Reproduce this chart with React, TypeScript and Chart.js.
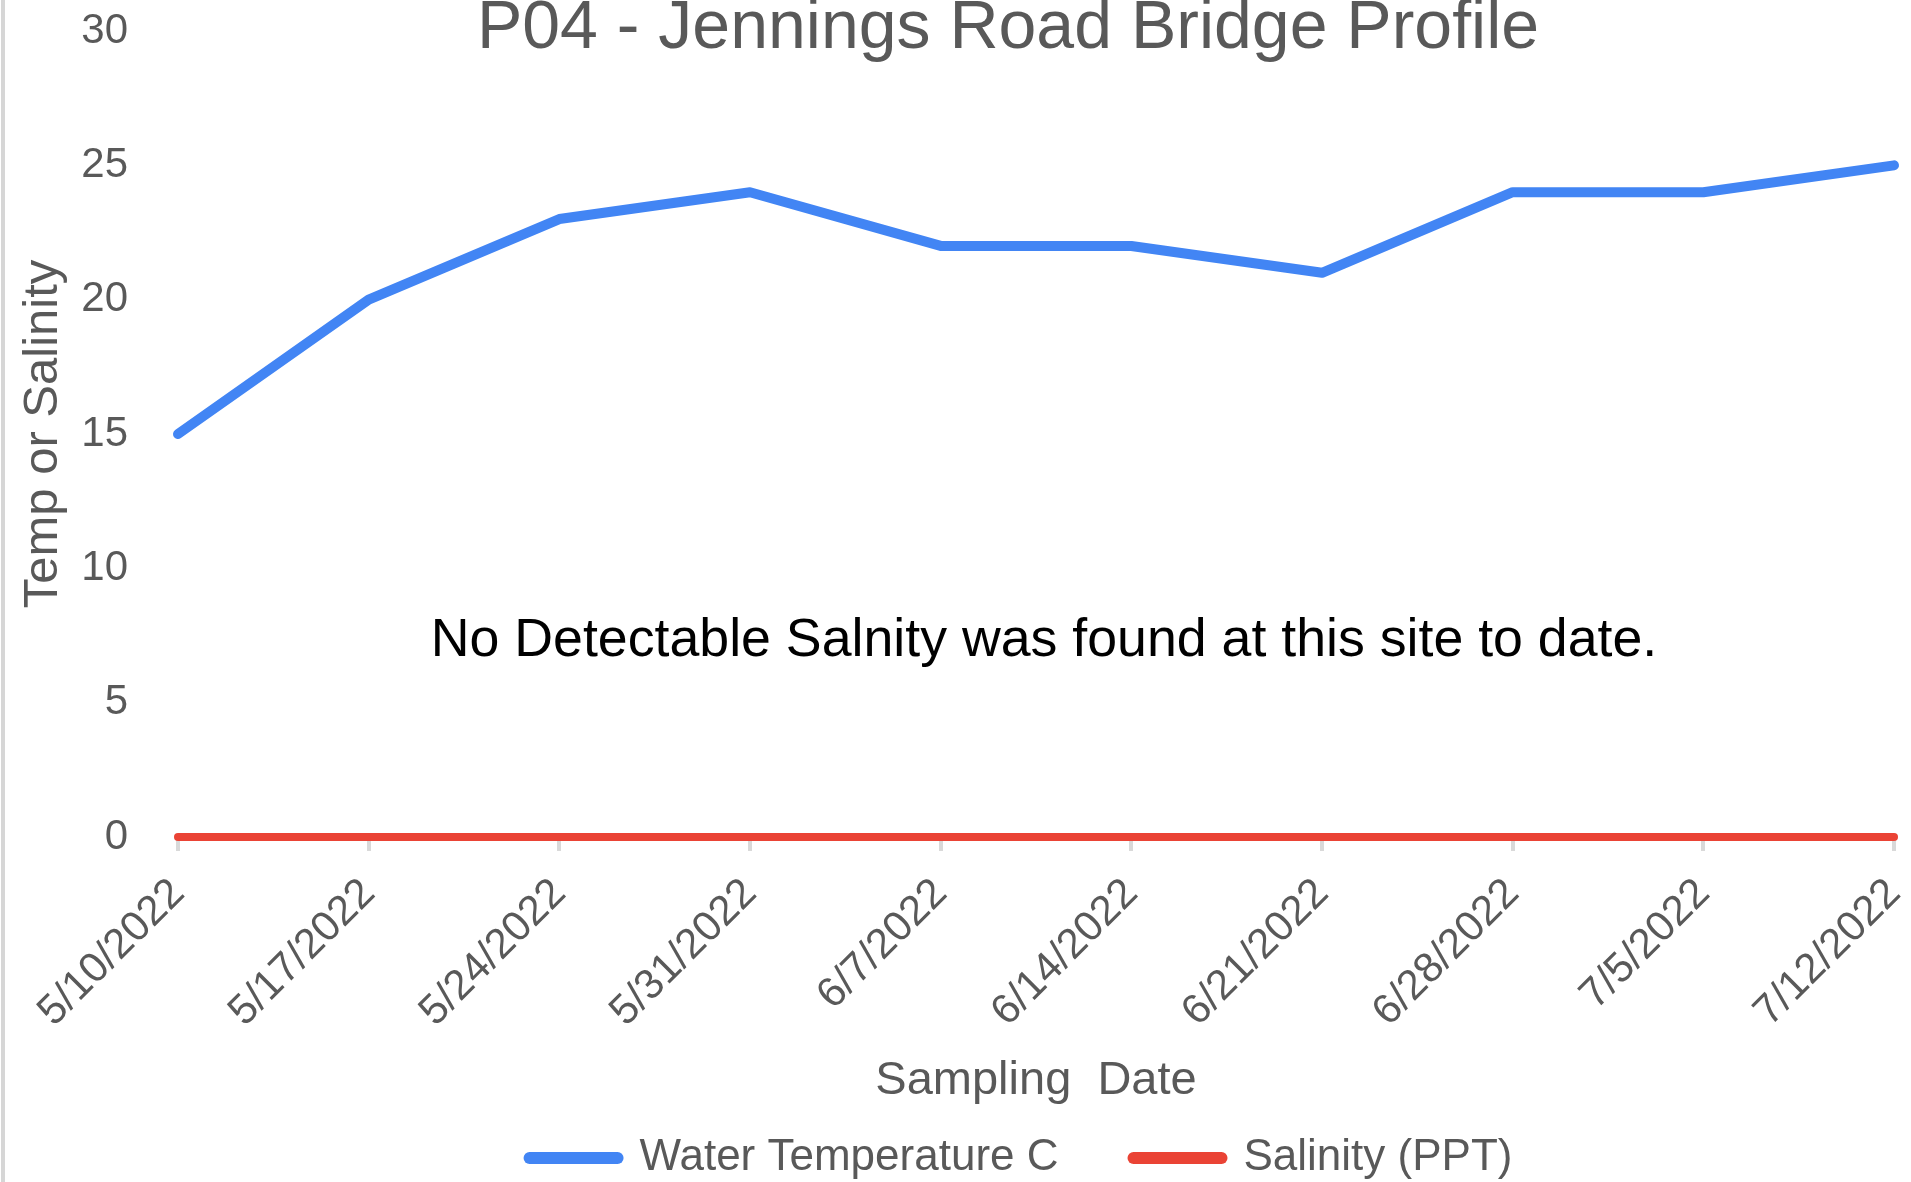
import React, { useEffect, useRef } from 'react';
import { Chart, registerables } from 'chart.js';

Chart.register(...registerables);

// ---- data ----
const samplingDates = [
  '5/10/2022', '5/17/2022', '5/24/2022', '5/31/2022', '6/7/2022',
  '6/14/2022', '6/21/2022', '6/28/2022', '7/5/2022', '7/12/2022',
];
const waterTemperatureC = [15, 20, 23, 24, 22, 22, 21, 24, 24, 25];
const salinityPPT = [0, 0, 0, 0, 0, 0, 0, 0, 0, 0];
const yMin = 0;
const yMax = 30;
const yStep = 5;

const chartTitle = 'P04 - Jennings Road Bridge Profile';
const noteText = 'No Detectable Salnity was found at this site to date.';
const xAxisTitle = 'Sampling  Date';
const yAxisTitle = 'Temp or Salinity';
const seriesNames = ['Water Temperature C', 'Salinity (PPT)'];

// ---- styles ----
const FONT = '"Liberation Sans", Arial, sans-serif';
const GRAY_TEXT = '#595959';
const AXIS_GRAY = '#d9d9d9';
const BLUE = '#4285F4';
const RED = '#EA4335';

const overlayText = {
  id: 'overlayText',
  afterLayout(chart: any) {
    if (chart.legend) {
      chart.legend.left -= 30;
    }
  },
  afterDraw(chart: any) {
    const ctx = chart.ctx as CanvasRenderingContext2D;
    ctx.save();
    ctx.textAlign = 'center';
    ctx.textBaseline = 'alphabetic';
    ctx.fillStyle = GRAY_TEXT;
    ctx.font = `68px ${FONT}`;
    ctx.fillText(chartTitle, 1008, 48);
    ctx.fillStyle = '#000000';
    ctx.font = `53.7px ${FONT}`;
    ctx.fillText(noteText, 1044, 656);
    ctx.restore();
  },
};

export default function App() {
  const canvasRef = useRef<HTMLCanvasElement | null>(null);

  useEffect(() => {
    document.body.style.margin = '0';
    const canvas = canvasRef.current;
    if (!canvas) return;
    const chart = new Chart(canvas, {
      type: 'line',
      data: {
        labels: samplingDates,
        datasets: [
          {
            label: seriesNames[0],
            data: waterTemperatureC,
            borderColor: BLUE,
            backgroundColor: BLUE,
            borderWidth: 10,
            borderCapStyle: 'round',
            borderJoinStyle: 'round',
            pointRadius: 0,
            pointHoverRadius: 0,
            tension: 0,
            clip: false,
          },
          {
            label: seriesNames[1],
            data: salinityPPT,
            borderColor: RED,
            backgroundColor: RED,
            borderWidth: 8,
            borderCapStyle: 'round',
            borderJoinStyle: 'round',
            pointRadius: 0,
            pointHoverRadius: 0,
            tension: 0,
            clip: false,
          },
        ],
      },
      options: {
        responsive: false,
        animation: false,
        devicePixelRatio: 1,
        layout: { padding: { top: 31, right: 17, bottom: -8, left: 0 } },
        plugins: {
          title: { display: false },
          tooltip: { enabled: false },
          legend: {
            display: true,
            position: 'bottom',
            fullSize: false,
            labels: {
              color: GRAY_TEXT,
              font: { family: FONT, size: 44 },
              padding: 75,
              usePointStyle: true,
              pointStyle: 'line',
              pointStyleWidth: 88,
              generateLabels: (c: any) =>
                Chart.defaults.plugins.legend.labels
                  .generateLabels(c)
                  .map((l: any) => ({ ...l, lineWidth: 12, lineCap: 'round' })),
            },
          },
        },
        scales: {
          x: {
            type: 'category',
            offset: false,
            grid: {
              display: true,
              drawOnChartArea: false,
              drawTicks: true,
              tickLength: 14,
              color: AXIS_GRAY,
              lineWidth: 4,
            },
            border: { display: true, color: AXIS_GRAY, width: 5 },
            ticks: {
              color: GRAY_TEXT,
              font: { family: FONT, size: 42 },
              minRotation: 45,
              maxRotation: 45,
              padding: 18,
              autoSkip: false,
            },
            title: {
              display: true,
              text: xAxisTitle,
              color: GRAY_TEXT,
              font: { family: FONT, size: 47 },
              padding: { top: 0, bottom: -48 },
            },
            afterFit: (s: any) => {
              s.height = 224;
              s.paddingLeft = 0;
              s.paddingRight = 0;
            },
          },
          y: {
            min: yMin,
            max: yMax,
            grid: { display: false, drawTicks: false },
            border: { display: false },
            ticks: {
              stepSize: yStep,
              color: GRAY_TEXT,
              font: { family: FONT, size: 42 },
              padding: 50,
            },
            title: {
              display: true,
              text: yAxisTitle,
              color: GRAY_TEXT,
              font: { family: FONT, size: 49 },
              padding: { top: 14, bottom: 0 },
            },
            afterFit: (s: any) => {
              s.width = 178;
              s.paddingTop = 0;
              s.paddingBottom = 0;
            },
          },
        },
      },
      plugins: [overlayText],
    });
    return () => chart.destroy();
  }, []);

  return (
    <div style={{ position: 'relative', width: 1911, height: 1182, background: '#ffffff', overflow: 'hidden' }}>
      <div style={{ position: 'absolute', left: 1, top: 0, width: 4, height: 1182, background: '#d6d6d6' }} />
      <canvas ref={canvasRef} width={1911} height={1182} style={{ display: 'block', width: 1911, height: 1182 }} />
    </div>
  );
}
